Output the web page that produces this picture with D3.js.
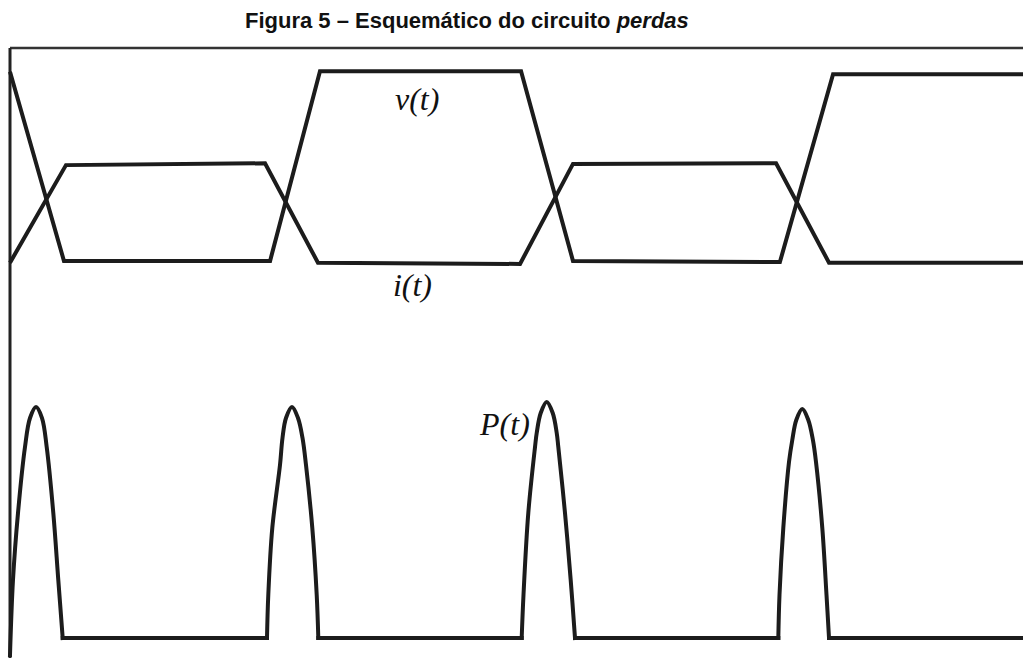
<!DOCTYPE html>
<html>
<head>
<meta charset="utf-8">
<script src="https://cdn.jsdelivr.net/npm/d3@7"></script>
<style>
  body { margin: 0; background: #fff; }
  svg { display: block; }
</style>
</head>
<body>
<div id="chart"></div>
<script>
// time in µs, amplitude in arbitrary units (0..100)
const vT = [0, 2.13, 10.27, 12.24, 20.18, 22.23, 30.40, 32.50, 40];
const vA = [96.1, 65.1, 65.1, 96.2, 96.2, 65.1, 64.9, 95.7, 95.7];

const iT = [0, 2.21, 10.07, 12.16, 20.14, 22.23, 30.25, 32.34, 40];
const iA = [64.8, 80.8, 81.1, 64.8, 64.6, 81.0, 81.1, 64.8, 64.8];

// P(t): one array per switching pulse, plus the end of the baseline
const pulseT = [
  [0, 0.118, 0.316, 0.592, 0.790, 1.027, 1.264, 1.449, 1.710, 1.907, 2.081],
  [10.148, 10.199, 10.357, 10.661, 10.760, 10.898, 11.135, 11.372, 11.550, 11.688, 11.937, 12.111, 12.174],
  [20.205, 20.276, 20.466, 20.731, 20.798, 20.956, 21.193, 21.430, 21.588, 21.651, 21.915, 22.140, 22.310],
  [30.338, 30.385, 30.535, 30.760, 30.890, 31.048, 31.285, 31.522, 31.704, 31.826, 32.075, 32.241, 32.340]
];
const pulseA = [
  [0.49, 12.79, 23.77, 34.59, 39.34, 41.15, 39.34, 34.59, 23.77, 12.79, 3.28],
  [3.28, 10.33, 21.31, 31.64, 36.07, 39.34, 41.15, 39.34, 36.07, 31.64, 21.31, 10.33, 3.28],
  [3.28, 10.33, 23.77, 34.59, 36.89, 40.16, 41.97, 40.16, 36.89, 34.59, 23.77, 12.79, 3.28],
  [3.28, 10.33, 21.31, 32.13, 35.74, 39.02, 40.82, 39.02, 35.74, 32.13, 21.31, 10.33, 3.28]
];
const pEnd = [40, 3.28];

const labels = [
  {text: "v(t)", t: 15.2, a: 89.8},
  {text: "i(t)", t: 15.12, a: 59.3},
  {text: "P(t)", t: 18.56, a: 36.6}
];

const width = 1023, height = 658;
const svg = d3.select("#chart").append("svg").attr("width", width).attr("height", height);
svg.append("rect").attr("width", width).attr("height", height).attr("fill", "#fff");

const x = d3.scaleLinear().domain([0, 40]).range([10, 1023]);
const y = d3.scaleLinear().domain([0, 100]).range([658, 48]);

// title
const title = svg.append("text")
    .attr("x", 245).attr("y", 28)
    .attr("font-family", "Liberation Sans, Arial, sans-serif")
    .attr("font-size", 22).attr("font-weight", "bold").attr("fill", "#111");
title.append("tspan").text("Figura 5 – Esquemático do circuito ");
title.append("tspan").attr("font-style", "italic").text("perdas");

// frame: top and left
svg.append("line").attr("x1", x(0)).attr("x2", width).attr("y1", y(100)).attr("y2", y(100))
    .attr("stroke", "#333").attr("stroke-width", 2.5);
svg.append("line").attr("x1", x(0)).attr("x2", x(0)).attr("y1", y(100)).attr("y2", height)
    .attr("stroke", "#222").attr("stroke-width", 3);

const stroke = "#1c1c1c";
const line = d3.line().x(d => x(d[0])).y(d => y(d[1]));

[[vT, vA], [iT, iA]].forEach(([ts, as]) => {
  svg.append("path")
      .datum(ts.map((t, k) => [t, as[k]]))
      .attr("fill", "none")
      .attr("stroke", stroke)
      .attr("stroke-width", 4)
      .attr("d", line);
});

// P(t) arches
const arch = d3.line().x(d => x(d[0])).y(d => y(d[1])).curve(d3.curveCatmullRom.alpha(0.5));
pulseT.forEach((ts, k) => {
  svg.append("path")
      .datum(ts.map((t, j) => [t, pulseA[k][j]]))
      .attr("fill", "none")
      .attr("stroke", stroke)
      .attr("stroke-width", 4)
      .attr("stroke-linecap", "square")
      .attr("d", arch);
});

// P(t) baseline between the pulses
const base = pulseT.map((ts, k) => [
  [ts[ts.length - 1], pulseA[k][ts.length - 1]],
  k + 1 < pulseT.length ? [pulseT[k + 1][0], pulseA[k + 1][0]] : pEnd
]);
base.forEach(seg => {
  svg.append("path")
      .datum(seg)
      .attr("fill", "none")
      .attr("stroke", stroke)
      .attr("stroke-width", 4)
      .attr("stroke-linecap", "square")
      .attr("d", line);
});

svg.selectAll(".lbl")
  .data(labels)
  .join("text")
    .attr("x", d => x(d.t)).attr("y", d => y(d.a))
    .attr("font-family", "Liberation Serif, Times New Roman, serif")
    .attr("font-style", "italic")
    .attr("font-size", 32)
    .attr("fill", "#111")
    .text(d => d.text);
</script>
</body>
</html>
